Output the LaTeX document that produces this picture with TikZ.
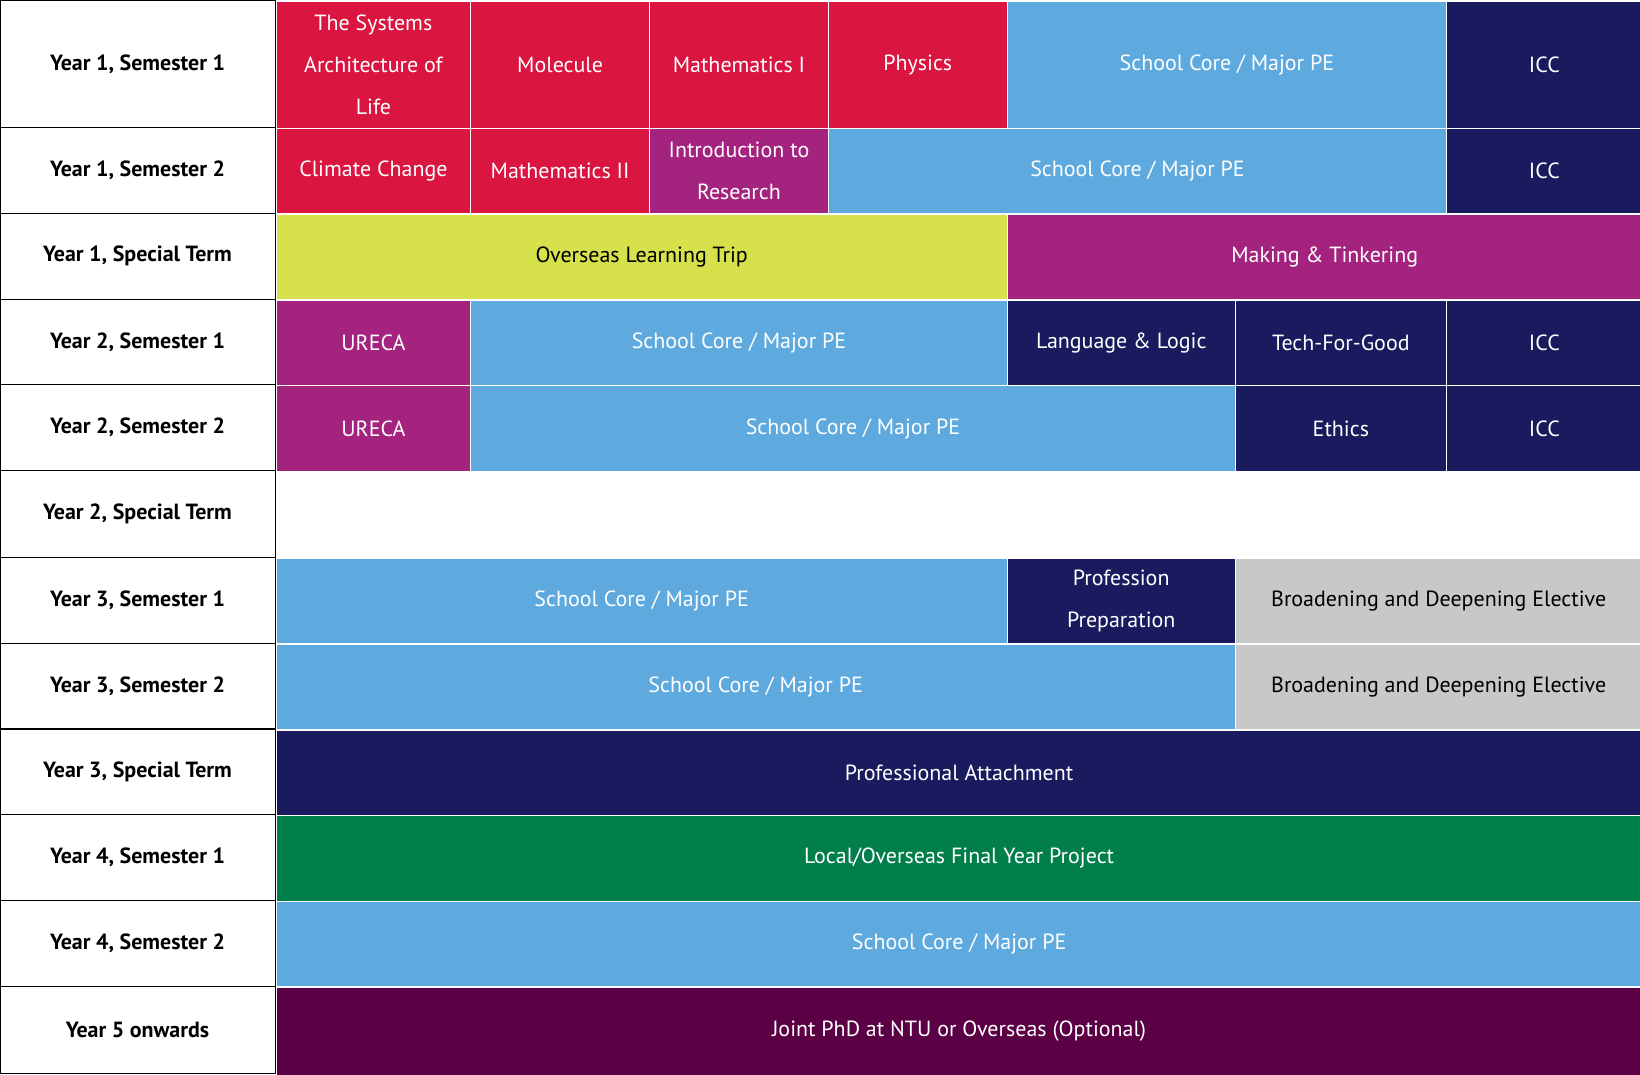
\documentclass[tikz,border=0pt]{standalone}
\usepackage{fontspec}
\setmainfont{PT Sans}
\definecolor{crim}{HTML}{D91540}
\definecolor{lblue}{HTML}{5EA9DD}
\definecolor{navy}{HTML}{1A1B5E}
\definecolor{purp}{HTML}{A4237E}
\definecolor{ygrn}{HTML}{D6E14C}
\definecolor{gry}{HTML}{C8C8C8}
\definecolor{grn}{HTML}{007F4B}
\definecolor{dpur}{HTML}{5C0046}
\newcommand{\mycell}[7]{%
  \node[cell, fill=#6, minimum width={#4-#2-3pt}, minimum height={#5-#3-3pt}] (#1) at ({(#2+#4)/2},{(#3+#5)/2}) {#7};}
\newcommand{\mylab}[4]{%
  \node[lab, minimum height={#3-#2}] (#1) at (131.5,{(#2+#3)/2}) {#4};}
\begin{document}
\begin{tikzpicture}[x=1pt,y=-1pt,
  cell/.style={inner sep=0pt, align=center, text=white, font=\fontsize{21}{40}\selectfont},
  dk/.style={text=black},
  lab/.style={draw=black, line width=1pt, minimum width=263pt, inner sep=0pt, font=\fontsize{21}{26}\selectfont\bfseries}]
\useasboundingbox (0,0) rectangle (1568,1027);
\mylab{l1}{0}{122}{Year 1, Semester 1}
\mylab{l2}{122}{204}{Year 1, Semester 2}
\mylab{l3}{204}{286}{Year 1, Special Term}
\mylab{l4}{286}{368}{Year 2, Semester 1}
\mylab{l5}{368}{450}{Year 2, Semester 2}
\mylab{l6}{450}{533}{Year 2, Special Term}
\mylab{l7}{533}{615}{Year 3, Semester 1}
\mylab{l8}{615}{697}{Year 3, Semester 2}
\mylab{l9}{697}{779}{Year 3, Special Term}
\mylab{l10}{779}{861}{Year 4, Semester 1}
\mylab{l11}{861}{943}{Year 4, Semester 2}
\mylab{l12}{943}{1026}{Year 5 onwards}
% row 1
\mycell{a1}{263}{0}{451}{123.5}{crim}{The Systems\\Architecture of\\Life}
\mycell{a2}{449}{0}{622}{123.5}{crim}{Molecule}
\mycell{a3}{620}{0}{793}{123.5}{crim}{Mathematics I}
\mycell{a4}{791}{0}{964}{123.5}{crim}{Physics}
\mycell{a5}{962}{0}{1384}{123.5}{lblue}{School Core / Major PE}
\mycell{a6}{1382}{0}{1571}{123.5}{navy}{ICC}
% row 2
\mycell{b1}{263}{122}{451}{205.5}{crim}{Climate Change}
\mycell{b2}{449}{122}{622}{205.5}{crim}{Mathematics II}
\mycell{b3}{620}{122}{793}{205.5}{purp}{Introduction to\\Research}
\mycell{b4}{791}{122}{1384}{205.5}{lblue}{School Core / Major PE}
\mycell{b5}{1382}{122}{1571}{205.5}{navy}{ICC}
% row 3
\mycell{c1}{263}{204}{964}{287.5}{ygrn}{\color{black}Overseas Learning Trip}
\mycell{c2}{962}{204}{1571}{287.5}{purp}{Making \& Tinkering}
% row 4
\mycell{d1}{263}{286}{451}{369.5}{purp}{URECA}
\mycell{d2}{449}{286}{964}{369.5}{lblue}{School Core / Major PE}
\mycell{d3}{962}{286}{1182}{369.5}{navy}{Language \& Logic}
\mycell{d4}{1180}{286}{1384}{369.5}{navy}{Tech-For-Good}
\mycell{d5}{1382}{286}{1571}{369.5}{navy}{ICC}
% row 5
\mycell{e1}{263}{368}{451}{451.5}{purp}{URECA}
\mycell{e2}{449}{368}{1182}{451.5}{lblue}{School Core / Major PE}
\mycell{e3}{1180}{368}{1384}{451.5}{navy}{Ethics}
\mycell{e4}{1382}{368}{1571}{451.5}{navy}{ICC}
% row 7
\mycell{g1}{263}{533}{964}{616.5}{lblue}{School Core / Major PE}
\mycell{g2}{962}{533}{1182}{616.5}{navy}{Profession\\Preparation}
\mycell{g3}{1180}{533}{1571}{616.5}{gry}{\color{black}Broadening and Deepening Elective}
% row 8
\mycell{h1}{263}{615}{1182}{698.5}{lblue}{School Core / Major PE}
\mycell{h2}{1180}{615}{1571}{698.5}{gry}{\color{black}Broadening and Deepening Elective}
% rows 9-12
\mycell{i1}{263}{697}{1571}{780.5}{navy}{Professional Attachment}
\mycell{j1}{263}{779}{1571}{862.5}{grn}{Local/Overseas Final Year Project}
\mycell{k1}{263}{861}{1571}{944.5}{lblue}{School Core / Major PE}
\mycell{m1}{263}{943}{1571}{1029.5}{dpur}{Joint PhD at NTU or Overseas (Optional)}
\end{tikzpicture}
\end{document}
